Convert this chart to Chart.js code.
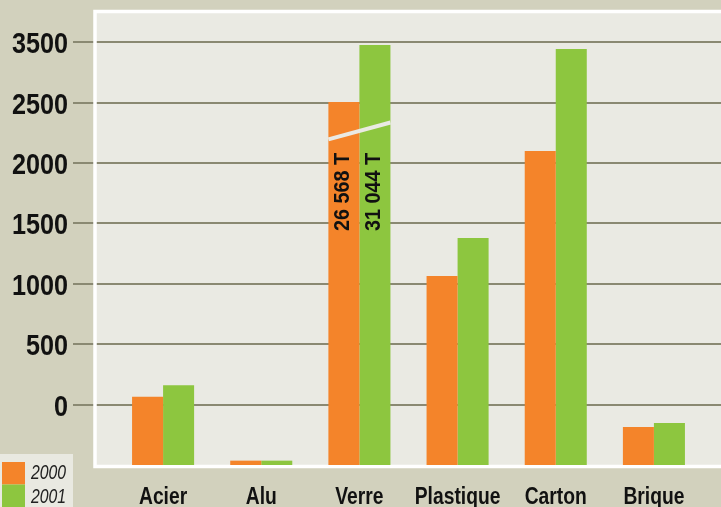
<!DOCTYPE html>
<html>
<head>
<meta charset="utf-8">
<script src="https://cdn.jsdelivr.net/npm/chart.js@4"></script>
<style>
  html, body { margin: 0; padding: 0; background: #d2d1bd; }
  canvas { display: block; }
</style>
</head>
<body>
<canvas id="chart" width="721" height="507"></canvas>
<script>
'use strict';

// data
const categories = ['Acier', 'Alu', 'Verre', 'Plastique', 'Carton', 'Brique'];
const years = ['2000', '2001'];
const values2000 = [65, -464, 2505, 1064, 2099, -186];
const values2001 = [161, -464, 2977, 1379, 2944, -153];
// the original axis labels its top line "3500" although it sits at 3000
const yTickValues = [0, 500, 1000, 1500, 2000, 2500, 3000];
const yTickLabels = ['0', '500', '1000', '1500', '2000', '2500', '3500'];
const verreTotals = ['26 568 T', '31 044 T'];

const orange = '#f4842a';
const green = '#8dc63f';
const FONT = "'Liberation Sans', Arial, sans-serif";

// the source uses a condensed face; squeeze a regular one to match
function squeezedText(ctx, text, x, y, font, sx, align) {
    ctx.save();
    ctx.font = font;
    ctx.textAlign = align;
    ctx.translate(x, y);
    ctx.scale(sx, 1);
    ctx.fillText(text, 0, 0);
    ctx.restore();
}

const framePlugin = {
    id: 'frame',
    beforeDatasetsDraw(chart) {
        const ctx = chart.ctx;
        const a = chart.chartArea;
        const x = chart.scales.x;
        const y = chart.scales.y;
        ctx.save();
        // plot panel
        ctx.fillStyle = '#eaeae3';
        ctx.fillRect(a.left - 19, a.top - 1, chart.width, a.bottom - a.top + 3);
        // grid lines run out into the label column
        ctx.strokeStyle = '#8a8972';
        ctx.lineWidth = 2;
        yTickValues.forEach(v => {
            const py = Math.round(y.getPixelForValue(v));
            ctx.beginPath();
            ctx.moveTo(a.left - 41, py);
            ctx.lineTo(chart.width, py);
            ctx.stroke();
        });
        // white border
        ctx.strokeStyle = '#ffffff';
        ctx.lineWidth = 3.5;
        ctx.strokeRect(a.left - 19, a.top - 0.5, chart.width + 10, a.bottom - a.top + 2);

        // axis labels
        ctx.fillStyle = '#111';
        ctx.textBaseline = 'alphabetic';
        yTickValues.forEach((v, i) => {
            squeezedText(ctx, yTickLabels[i], a.left - 46, Math.round(y.getPixelForValue(v)) + 11,
                'bold 30px ' + FONT, 0.84, 'right');
        });
        categories.forEach((c, i) => {
            squeezedText(ctx, c, x.getPixelForValue(i), a.bottom + 39,
                'bold 23.5px ' + FONT, 0.82, 'center');
        });
        ctx.restore();
    },
    afterDatasetsDraw(chart) {
        const ctx = chart.ctx;
        const y = chart.scales.y;
        const b0 = chart.getDatasetMeta(0).data[2];
        const b1 = chart.getDatasetMeta(1).data[2];
        ctx.save();
        // axis break across the Verre bars
        ctx.strokeStyle = '#eaeae3';
        ctx.lineWidth = 4;
        ctx.beginPath();
        ctx.moveTo(b0.x - b0.width / 2, y.getPixelForValue(2195));
        ctx.lineTo(b1.x + b1.width / 2, y.getPixelForValue(2335));
        ctx.stroke();
        // real totals, written up the bars
        ctx.fillStyle = '#111';
        ctx.textBaseline = 'middle';
        [b0, b1].forEach((b, i) => {
            ctx.save();
            ctx.translate(b.x - 0.5, y.getPixelForValue(1760));
            ctx.rotate(-Math.PI / 2);
            squeezedText(ctx, verreTotals[i], 0, 0, 'bold 22px ' + FONT, 0.9, 'center');
            ctx.restore();
        });
        // legend, bottom left
        ctx.fillStyle = '#e9e9e1';
        ctx.fillRect(0, 454, 73, 53);
        const cols = [orange, green];
        ctx.textBaseline = 'alphabetic';
        years.forEach((yr, i) => {
            ctx.fillStyle = cols[i];
            ctx.fillRect(2, 462 + i * 22.5, 23, 22.5);
            ctx.fillStyle = '#222';
            squeezedText(ctx, yr, 31, 479 + i * 23.5, 'italic 19.5px ' + FONT, 0.81, 'left');
        });
        ctx.restore();
    }
};

new Chart(document.getElementById('chart').getContext('2d'), {
    type: 'bar',
    data: {
        labels: categories,
        datasets: [
            { label: years[0], data: values2000, backgroundColor: orange, base: -500 },
            { label: years[1], data: values2001, backgroundColor: green, base: -500 }
        ]
    },
    options: {
        responsive: false,
        animation: false,
        layout: { padding: { top: 12, right: 18, left: 0, bottom: 0 } },
        datasets: { bar: { barPercentage: 1, categoryPercentage: 0.632 } },
        plugins: { legend: { display: false }, tooltip: { enabled: false } },
        scales: {
            x: {
                grid: { display: false, drawTicks: false },
                border: { display: false },
                ticks: { display: false },
                afterFit(s) {
                    s.height = 42;
                    s.paddingLeft = s.paddingRight = s.paddingTop = s.paddingBottom = 0;
                }
            },
            y: {
                min: -500,
                max: 3250,
                grid: { display: false, drawTicks: false },
                border: { display: false },
                afterBuildTicks(s) { s.ticks = yTickValues.map(v => ({ value: v })); },
                ticks: { display: false },
                afterFit(s) {
                    s.width = 114;
                    s.paddingLeft = s.paddingRight = s.paddingTop = s.paddingBottom = 0;
                }
            }
        }
    },
    plugins: [framePlugin]
});
</script>
</body>
</html>
